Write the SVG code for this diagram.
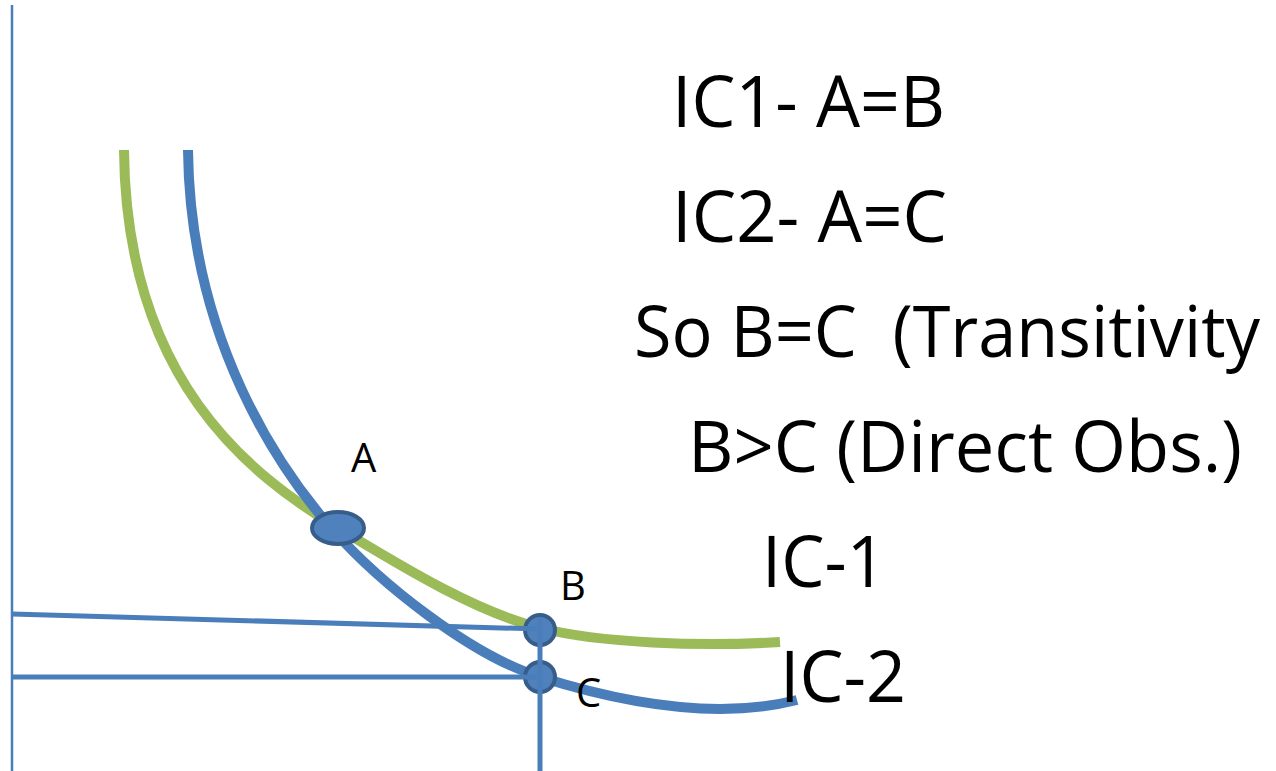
<svg xmlns="http://www.w3.org/2000/svg" width="1276" height="771" viewBox="0 0 1276 771">
<style>
.big{font-family:"Open Sans","Liberation Sans",sans-serif;font-size:72px;fill:#000;white-space:pre}
.lbl{font-family:"Open Sans","Liberation Sans",sans-serif;font-size:40px;fill:#000}
.curve{fill:none;stroke-width:10}
.ln{fill:none;stroke:#4a7ebb;stroke-width:5}
.pt{fill:#4f81bd;stroke:#385d8a;stroke-width:4}
</style>
<rect width="1276" height="771" fill="#fff"/>
<g id="axis"><line x1="12" y1="5" x2="12" y2="771" stroke="#4a7ebb" stroke-width="2.5"/></g>
<g id="ic1"><path class="curve" stroke="#9bbb59" d="M124,150 C126,380 250,475 338,528 C390,559 470,610 540,628 C600,643 700,647 780,642"/></g>
<g id="ic2"><path class="curve" stroke="#4a7ebb" d="M188,150 C190,340 280,470 333,530 C380,583 470,655 540,677 C610,699 710,722 797,700"/></g>
<g id="pointA"><ellipse class="pt" cx="338" cy="528" rx="26" ry="16"/></g>
<g id="pointB"><circle class="pt" cx="540" cy="630" r="15"/></g>
<g id="pointC"><circle class="pt" cx="540" cy="677" r="15"/></g>
<g id="connectors">
<line class="ln" x1="12" y1="614" x2="540" y2="629"/>
<line class="ln" x1="12" y1="677" x2="540" y2="677"/>
<line class="ln" x1="540" y1="617" x2="540" y2="771" stroke-width="6"/>
</g>
<g id="labels">
<text class="lbl" x="351" y="472">A</text>
<text class="lbl" x="560" y="600">B</text>
<text class="lbl" x="576" y="707">C</text>
</g>
<g id="notes">
<text class="big" x="672" y="127" textLength="273" lengthAdjust="spacingAndGlyphs">IC1- A=B</text>
<text class="big" x="672" y="242" textLength="275" lengthAdjust="spacingAndGlyphs">IC2- A=C</text>
<text class="big" x="634" y="357" textLength="626" lengthAdjust="spacingAndGlyphs">So B=C  (Transitivity</text>
<text class="big" x="688" y="472" textLength="554" lengthAdjust="spacingAndGlyphs">B&gt;C (Direct Obs.)</text>
<text class="big" x="762" y="587" textLength="124" lengthAdjust="spacingAndGlyphs">IC-1</text>
<text class="big" x="780" y="702" textLength="126" lengthAdjust="spacingAndGlyphs">IC-2</text>
</g>
</svg>
